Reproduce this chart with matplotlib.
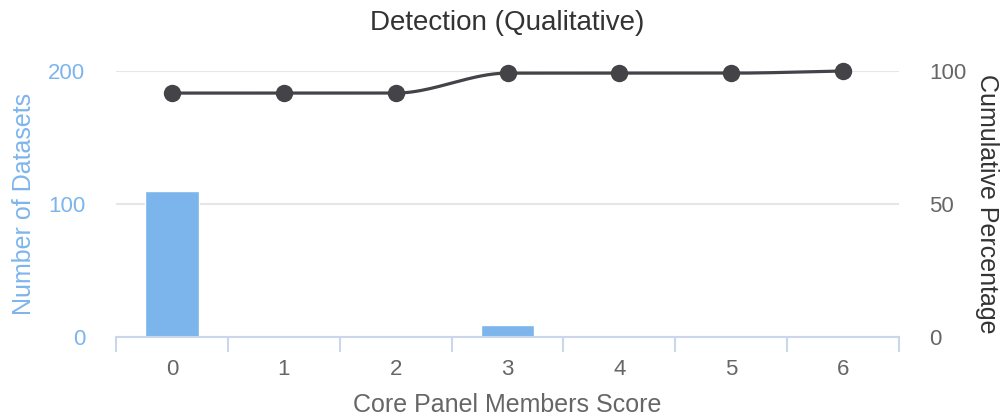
import numpy as np
import matplotlib
matplotlib.use("Agg")
import matplotlib.pyplot as plt

plt.rcParams['font.family'] = ['Liberation Sans', 'DejaVu Sans']

categories = ["0", "1", "2", "3", "4", "5", "6"]
counts = [110, 0, 0, 9, 0, 0, 1]
cumulative = [91.7, 91.7, 91.7, 99.2, 99.2, 99.2, 100.0]

BAR = "#7cb5ec"
LINE = "#434348"
GRID = "#e6e6e6"
AXIS = "#ccd6eb"
TXT = "#666666"

W, H = 1007, 419
fig = plt.figure(figsize=(W / 100, H / 100), dpi=100)
x0, x1, ytop, ybot = 116, 899, 71, 337
ax = fig.add_axes([x0 / W, (H - ybot) / H, (x1 - x0) / W, (ybot - ytop) / H])
ax2 = ax.twinx()

x = np.arange(len(categories))
ax.bar(x, counts, width=0.48, color=BAR, edgecolor="white", linewidth=1, zorder=2)
ax.set_xlim(-0.5, len(categories) - 0.5)
ax.set_ylim(0, 200)
ax.set_yticks([0, 100, 200])
ax.yaxis.grid(True, color=GRID, linewidth=1.5, zorder=0)
ax.set_axisbelow(True)

# monotone cubic smoothing of the cumulative line
def pchip(xs, ys, n=40):
    xs = np.asarray(xs, float); ys = np.asarray(ys, float)
    h = np.diff(xs); d = np.diff(ys) / h
    m = np.zeros_like(ys)
    for i in range(1, len(ys) - 1):
        if d[i - 1] * d[i] > 0:
            m[i] = 2 / (1 / d[i - 1] + 1 / d[i])
    m[0] = d[0]; m[-1] = d[-1]
    px, py = [], []
    for i in range(len(xs) - 1):
        t = np.linspace(0, 1, n)
        h00 = 2 * t**3 - 3 * t**2 + 1; h10 = t**3 - 2 * t**2 + t
        h01 = -2 * t**3 + 3 * t**2; h11 = t**3 - t**2
        px.extend(xs[i] + t * h[i])
        py.extend(h00 * ys[i] + h10 * h[i] * m[i] + h01 * ys[i + 1] + h11 * h[i] * m[i + 1])
    return np.array(px), np.array(py)

sx, sy = pchip(x, cumulative)
ax2.plot(sx, sy, color=LINE, linewidth=2.3, zorder=3, solid_capstyle="round",
         clip_on=False)
ax2.plot(x, cumulative, linestyle="none", marker="o", markersize=11.5,
         color=LINE, zorder=4, clip_on=False)
ax2.set_ylim(0, 100)
ax2.set_yticks([0, 50, 100])

for a in (ax, ax2):
    for s in ("top", "left", "right"):
        a.spines[s].set_visible(False)
ax2.spines["bottom"].set_visible(False)
ax.spines["bottom"].set_color(AXIS)
ax.spines["bottom"].set_linewidth(1.5)

ax.set_xticks(x)
ax.set_xticklabels(categories)
ax.set_xticks(np.arange(-0.5, len(categories)), minor=True)
ax.tick_params(axis="x", which="major", length=0, pad=16, labelsize=16, labelcolor=TXT)
ax.tick_params(axis="x", which="minor", length=11, width=1.5, color=AXIS, direction="out")
ax.tick_params(axis="y", length=0, pad=22, labelsize=16, labelcolor=BAR)
ax2.tick_params(axis="y", length=0, pad=22, labelsize=16, labelcolor=TXT)

ax.set_xlabel("Core Panel Members Score", fontsize=18, color=TXT, labelpad=9)
ax.set_ylabel("Number of Datasets", fontsize=18, color=BAR, labelpad=9)
ax2.set_ylabel("Cumulative Percentage", fontsize=18, color="#333333",
               rotation=270, labelpad=23)
fig.text((x0 + x1) / 2 / W, 1 - 23 / H, "Detection (Qualitative)", ha="center",
         va="center", fontsize=20, color="#333333")

fig.savefig("out.png", dpi=100)
